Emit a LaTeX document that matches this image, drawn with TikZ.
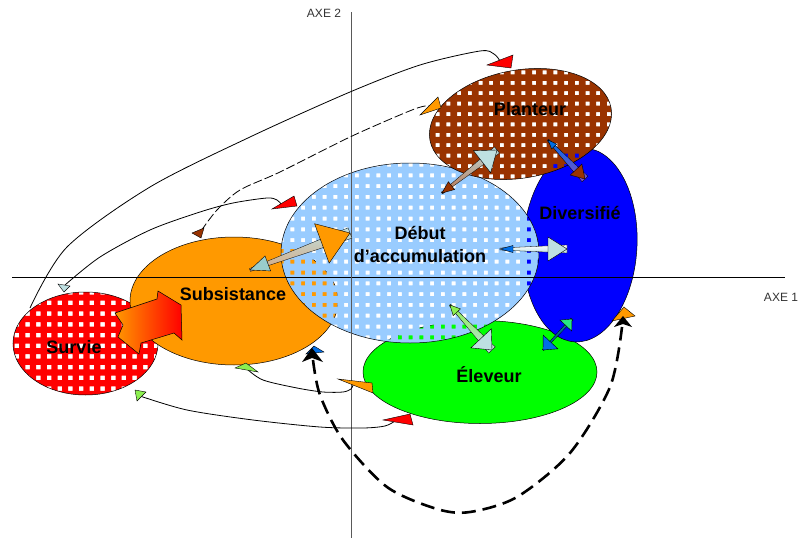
\documentclass[tikz,border=0pt]{standalone}
\usepackage{fontspec}
\setmainfont{Liberation Sans}
\usepackage{xcolor}
\definecolor{colSurvie}{RGB}{255,0,0}
\definecolor{colSubs}{RGB}{255,153,0}
\definecolor{colDebut}{RGB}{153,204,255}
\definecolor{colDivers}{RGB}{0,0,255}
\definecolor{colEleveur}{RGB}{0,255,0}
\definecolor{colPlanteur}{RGB}{153,51,0}
\definecolor{colHeadCyan}{RGB}{153,204,204}
\definecolor{colHeadLight}{RGB}{190,224,226}
\definecolor{colHeadBlue}{RGB}{0,110,230}
\definecolor{colHeadGreen}{RGB}{140,240,80}
\definecolor{colHeadMint}{RGB}{40,230,130}
\definecolor{colTan}{RGB}{214,168,128}
\usetikzlibrary{calc}

\newcommand{\arrowhead}[5]{%
	\coordinate (hb) at ($(#2)!#4!(#3)$);
	\filldraw[tip, fill=#1] (#2) -- ($(hb)!#5!90:(#2)$) -- ($(hb)!#5!-90:(#2)$) -- cycle;}
\newcommand{\shaft}[5]{%
	\shadedraw[#5, draw=black, line width=.3pt] ($(#1)!#3!90:(#2)$) -- ($(#2)!#4!-90:(#1)$) -- ($(#2)!#4!90:(#1)$) -- ($(#1)!#3!-90:(#2)$) -- cycle;}

\tikzset{
	zone/.style={draw=black, line width=.5pt},
	lab/.style={font=\bfseries\fontsize{18}{23}\selectfont, align=center},
	axe/.style={font=\fontsize{12}{14}\selectfont, text=black!80},
	link/.style={line width=.8pt},
	dashlink/.style={line width=.8pt, dash pattern=on 9pt off 3pt},
	bigdash/.style={line width=2.6pt, dash pattern=on 14pt off 7pt},
	tip/.style={draw=black, line width=.4pt},
}

\begin{document}
\begin{tikzpicture}[x=1pt, y=-1pt]
	\useasboundingbox (0,0) rectangle (801,538);

	\begin{scope}
		\clip (85.5,343.5) ellipse [x radius=72.5, y radius=51.5];
		\fill[colSurvie, even odd rule] (0,280) rectangle (170,410) \foreach \i in {0,...,15} {\foreach \j in {0,...,10} {(4+10.7*\i,290+10.7*\j) rectangle ++(4.5,4.5)}};
	\end{scope}
	\draw[zone] (85.5,343.5) ellipse [x radius=72.5, y radius=51.5];
	\filldraw[zone, fill=colSubs] (234,301) ellipse [x radius=104, y radius=64];
	\filldraw[zone, fill=colEleveur] (480,372) ellipse [x radius=117, y radius=51.5];
	\filldraw[zone, fill=colDivers] (580,245) ellipse [x radius=57, y radius=97, rotate=-3];
	\begin{scope}
		\clip (410,253) ellipse [x radius=129, y radius=90];
		\fill[colDebut, even odd rule] (270,150) rectangle (550,360) \foreach \i in {0,...,25} {\foreach \j in {0,...,17} {(279.5+10.75*\i,162.5+10.8*\j) rectangle ++(4,4)}};
	\end{scope}
	\draw[zone] (410,253) ellipse [x radius=129, y radius=90];
	\begin{scope}
		\clip (520.5,124) ellipse [x radius=92, y radius=54, rotate=10];
		\fill[colPlanteur, even odd rule] (415,55) rectangle (625,195) \foreach \i in {0,...,18} {\foreach \j in {0,...,12} {(425+10.7*\i,60+10.4*\j) rectangle ++(4,4)}};
	\end{scope}
	\draw[zone] (520.5,124) ellipse [x radius=92, y radius=54, rotate=10];

	\draw[line width=.6pt] (12,277) -- (785,277);
	\draw[line width=.6pt, black!65] (351,12) -- (351,538);
	\node[axe] (axe2) at (324,13) {AXE 2};
	\node[axe] (axe1) at (781,297) {AXE 1};

	\node[lab] (planteur) at (530,109) {Planteur};
	\node[lab] (divers) at (580,213) {Diversifié};
	\node[lab] (debut) at (420,244) {Début\\d’accumulation};
	\node[lab] (subs) at (233,294) {Subsistance};
	\node[lab] (survie) at (74,347) {Survie};
	\node[lab] (eleveur) at (489,375) {Éleveur};

	\shadedraw[left color=colSubs, right color=colSurvie, line width=.5pt] (115,313) -- (157,299) -- (158,291) -- (181,305) -- (182,340) -- (174,333) -- (141,343) -- (139,354) -- (118,337) -- (123,325) -- cycle;

	\coordinate (survieTop) at (30,308);
	\coordinate (planteurIn) at (500,61);
	\draw[link] plot[smooth] coordinates {(survieTop) (67,247) (150,187) (250,137) (350,92) (420,65) (480,51) (494,54) (planteurIn)};
	\filldraw[tip, fill=colSurvie] (487,65) -- (513,55) -- (511,68) -- cycle;

	\coordinate (subsTop) at (201,231);
	\coordinate (planteurOut) at (438,110);
	\draw[dashlink] plot[smooth] coordinates {(subsTop) (217,210) (240,190) (280,172) (350,137) (407,112) (425,106) (434,107) (planteurOut)};
	\filldraw[tip, fill=colPlanteur] (192,233) -- (204,228) -- (201,238) -- cycle;
	\filldraw[tip, fill=colSubs] (420,115) -- (438,97) -- (441,108) -- cycle;

	\coordinate (survieUp) at (65,285);
	\coordinate (debutLeft) at (281,204);
	\draw[link] plot[smooth] coordinates {(survieUp) (100,257) (150,230) (200,212) (233,203) (267,198) (277,200) (debutLeft)};
	\filldraw[tip, fill=colHeadLight] (58,284) -- (70,286) -- (64,292) -- cycle;
	\filldraw[tip, fill=colSurvie] (272,209) -- (294,196) -- (297,206) -- cycle;

	\coordinate (subsLow) at (247,369);
	\coordinate (eleveurLeft) at (353,385);
	\draw[link] plot[smooth] coordinates {(subsLow) (263,380) (297,388) (323,392) (343,392) (351,389) (eleveurLeft)};
	\filldraw[tip, fill=colHeadGreen] (235,368) -- (246,363) -- (258,372) -- cycle;
	\filldraw[tip, fill=colSubs] (338,379) -- (372,383) -- (373,393) -- cycle;

	\coordinate (survieLow) at (140,396);
	\coordinate (eleveurLow) at (395,421);
	\draw[link] plot[smooth] coordinates {(survieLow) (187,410) (253,420) (320,427) (363,428) (385,426) (eleveurLow)};
	\filldraw[tip, fill=colHeadGreen] (135,390) -- (146,392) -- (137,401) -- cycle;
	\filldraw[tip, fill=colSurvie] (383,420) -- (410,414) -- (413,425) -- cycle;

	\coordinate (subsFoot) at (313,360);
	\coordinate (diversFoot) at (622,327);
	\draw[bigdash] plot[smooth] coordinates {(subsFoot) (320,395) (343,440) (387,487) (437,509) (470,512) (517,497) (570,453) (610,387) (diversFoot)};
	\filldraw[tip, fill=colHeadBlue] (306,354) -- (314,346) -- (324,352) -- cycle;
	\fill[black] (302,362) -- (312,348) -- (323,362) -- (312,358) -- cycle;
	\filldraw[tip, fill=colSubs] (612,321) -- (624,307) -- (635,316) -- cycle;
	\fill[black] (614,327) -- (623,316) -- (632,327) -- (623,324) -- cycle;

	\coordinate (a1) at (250,270);
	\coordinate (a2) at (350,233);
	\coordinate (b1) at (442,193);
	\coordinate (b2) at (497,150);
	\coordinate (c1) at (548,140);
	\coordinate (c2) at (585,179);
	\coordinate (d1) at (500,249);
	\coordinate (d2) at (567,249);
	\coordinate (e1) at (450,305);
	\coordinate (e2) at (492,350);
	\coordinate (f1) at (543,350);
	\coordinate (f2) at (572,319);

	\shaft{a1}{a2}{1.5pt}{5.5pt}{top color=colHeadLight, bottom color=colTan}
	\arrowhead{colHeadCyan}{a1}{a2}{19pt}{8pt}
	\arrowhead{colSubs}{a2}{a1}{30pt}{21pt}

	\shaft{b1}{b2}{1pt}{4pt}{top color=colHeadLight, bottom color=colPlanteur!70!white}
	\arrowhead{colPlanteur}{b1}{b2}{12pt}{5pt}
	\arrowhead{colHeadLight}{b2}{b1}{19pt}{14pt}

	\shaft{c1}{c2}{1pt}{4pt}{top color=colHeadBlue, bottom color=violet!60!blue!70}
	\arrowhead{colHeadBlue}{c1}{c2}{9pt}{3.5pt}
	\arrowhead{colPlanteur}{c2}{c1}{13pt}{8pt}

	\shaft{d1}{d2}{1pt}{4pt}{top color=white, bottom color=colHeadLight}
	\arrowhead{colHeadBlue}{d1}{d2}{13pt}{3.5pt}
	\arrowhead{colHeadLight}{d2}{d1}{19pt}{12pt}

	\shaft{e1}{e2}{1pt}{4.5pt}{top color=colHeadGreen, bottom color=colHeadLight}
	\arrowhead{colHeadGreen}{e1}{e2}{10pt}{5pt}
	\arrowhead{colHeadLight}{e2}{e1}{16pt}{14pt}

	\shaft{f1}{f2}{.8pt}{1.5pt}{top color=teal, bottom color=teal!60!blue}
	\arrowhead{colHeadBlue}{f1}{f2}{11pt}{10pt}
	\arrowhead{colHeadMint}{f2}{f1}{9pt}{8pt}
\end{tikzpicture}
\end{document}
